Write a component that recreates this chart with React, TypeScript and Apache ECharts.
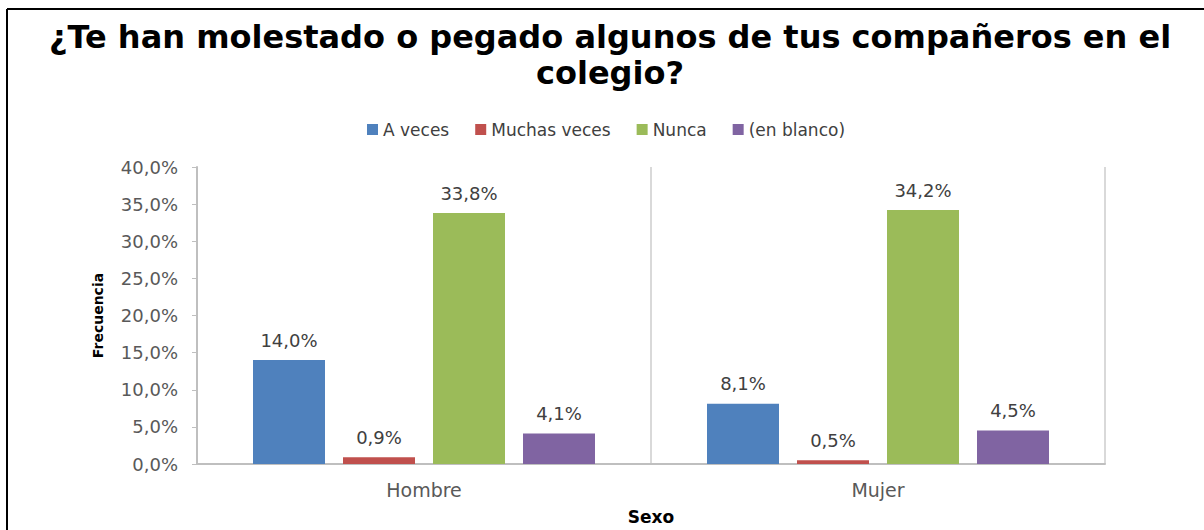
import React, { useEffect, useRef } from "react";
import * as echarts from "echarts";

const categories = ["Hombre", "Mujer"];
const seriesNames = ["A veces", "Muchas veces", "Nunca", "(en blanco)"];
const aVeces = [14.0, 8.1];
const muchasVeces = [0.9, 0.5];
const nunca = [33.8, 34.2];
const enBlanco = [4.1, 4.5];
const colors = ["#4F81BD", "#C0504D", "#9BBB59", "#8064A2"];
const yTicks = { min: 0, max: 40, interval: 5 };

const fmt = (v: number) => v.toFixed(1).replace(".", ",") + "%";

export default function App() {
  const ref = useRef<HTMLDivElement>(null);
  useEffect(() => {
    if (!ref.current) return;
    const chart = echarts.init(ref.current, undefined, { renderer: "svg" });
    const values = [aVeces, muchasVeces, nunca, enBlanco];
    chart.setOption({
      animation: false,
      backgroundColor: "#ffffff",
      color: colors,
      textStyle: { fontFamily: "DejaVu Sans" },
      title: {
        text: "¿Te han molestado o pegado algunos de tus compañeros en el\ncolegio?",
        left: 610,
        textAlign: "center",
        top: 19,
        padding: 0,
        textStyle: {
          fontFamily: "DejaVu Sans",
          fontWeight: "bold",
          fontSize: 32,
          lineHeight: 36,
          color: "#000000",
        },
      },
      legend: {
        top: 116,
        left: 362,
        itemWidth: 11,
        itemHeight: 11,
        itemGap: 26,
        icon: "rect",
        textStyle: { fontSize: 17, color: "#404040", fontFamily: "DejaVu Sans" },
        data: seriesNames,
      },
      grid: { left: 197, right: 99, top: 167, height: 298 },
      xAxis: {
        type: "category",
        data: categories,
        name: "Sexo",
        nameLocation: "middle",
        nameGap: 44,
        nameTextStyle: {
          fontWeight: "bold",
          fontSize: 17,
          color: "#000000",
        },
        axisLine: { lineStyle: { color: "#BFBFBF", width: 2 } },
        axisTick: { show: false },
        axisLabel: { fontSize: 19, color: "#595959", margin: 16 },
        splitLine: { show: true, lineStyle: { color: "#D9D9D9", width: 2 } },
      },
      yAxis: {
        type: "value",
        min: yTicks.min,
        max: yTicks.max,
        interval: yTicks.interval,
        name: "Frecuencia",
        nameLocation: "middle",
        nameGap: 92,
        nameRotate: 90,
        nameTextStyle: { fontWeight: "bold", fontSize: 14, color: "#000000" },
        axisLine: { show: true, lineStyle: { color: "#BFBFBF", width: 2 } },
        axisTick: { show: true, length: 5, lineStyle: { color: "#BFBFBF" } },
        axisLabel: { fontSize: 18, color: "#595959", margin: 19, formatter: (v: number) => fmt(v) },
        splitLine: { show: false },
      },
      series: seriesNames.map((name, i) => ({
        name,
        type: "bar",
        data: values[i],
        barWidth: 72,
        barGap: "25%",
        label: {
          show: true,
          position: "top",
          distance: 11,
          fontSize: 18,
          color: "#404040",
          formatter: (p: any) => fmt(p.value),
        },
      })),
      graphic: [
        { type: "line", shape: { x1: 7, y1: 9, x2: 1204, y2: 9 }, style: { stroke: "#000000", lineWidth: 2 } },
        { type: "line", shape: { x1: 7, y1: 9, x2: 7, y2: 530 }, style: { stroke: "#000000", lineWidth: 2 } },
      ],
    });
    return () => chart.dispose();
  }, []);
  return (
    <div
      ref={ref}
      style={{ position: "absolute", left: 0, top: 0, width: 1204, height: 530 }}
    />
  );
}
